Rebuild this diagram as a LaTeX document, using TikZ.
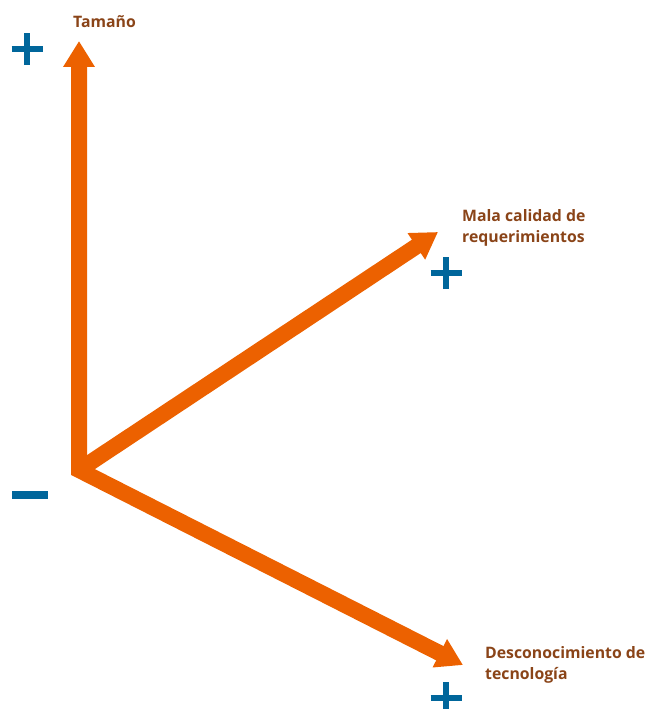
\documentclass[tikz,border=0pt]{standalone}
\usepackage{fontspec}
\setmainfont{Open Sans}
\usetikzlibrary{arrows.meta}
\definecolor{axisorange}{HTML}{EC6100}
\definecolor{signblue}{HTML}{00669B}
\definecolor{labelbrown}{HTML}{8A4418}
\tikzset{
  axis/.style={draw=axisorange, line width=16pt, line join=miter, miter limit=10,
    arrows={Triangle[width=30pt,length=26pt,fill=axisorange]-Triangle[width=30pt,length=26pt,fill=axisorange]}},
  axisone/.style={draw=axisorange, line width=16pt,
    arrows={-Triangle[width=30pt,length=26pt,fill=axisorange]}},
  sign/.style={draw=signblue, line width=6.5pt},
  lbl/.style={text=labelbrown, inner sep=0pt, anchor=north west, align=left,
    font=\fontsize{15.8}{21}\selectfont\bfseries}
}
\begin{document}
\begin{tikzpicture}[x=1pt,y=-1pt]
\useasboundingbox (0,0) rectangle (649,709);
\coordinate (O) at (79,470);
\coordinate (T) at (79,41);
\coordinate (R) at (438,232);
\coordinate (D) at (463,665);
\draw[axis] (T) -- (O) -- (D);
\draw[axisone] (O) -- (R);
% signs
\coordinate (p1) at (27,49);
\coordinate (p2) at (446,273);
\coordinate (p3) at (446,698);
\coordinate (m1) at (30,495);
\foreach \p in {p1,p2,p3}{
  \draw[sign] ([xshift=-15.5pt]\p) -- ([xshift=15.5pt]\p);
  \draw[sign] ([yshift=-16pt]\p) -- ([yshift=16pt]\p);
}
\draw[draw=signblue, line width=8pt] ([xshift=-18pt]m1) -- ([xshift=18pt]m1);
% labels
\node[lbl] (lt) at (73,15) {Tamaño};
\node[lbl] (lm) at (462,209) {Mala calidad de\\requerimientos};
\node[lbl] (ld) at (485,646) {Desconocimiento de\\tecnología};
\end{tikzpicture}
\end{document}
